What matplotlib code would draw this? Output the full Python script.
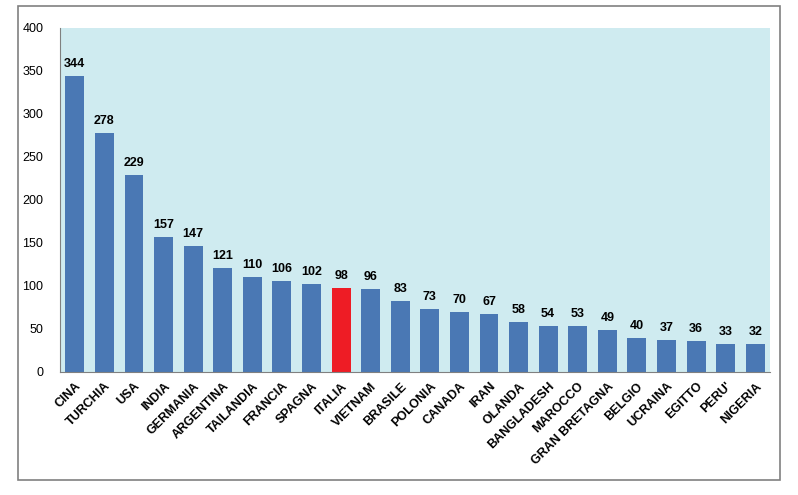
import matplotlib
matplotlib.use('Agg')
import matplotlib.pyplot as plt
from matplotlib.patches import Rectangle

plt.rcParams['font.family'] = ['Liberation Sans', 'DejaVu Sans']

paesi = ['CINA', 'TURCHIA', 'USA', 'INDIA', 'GERMANIA', 'ARGENTINA', 'TAILANDIA',
         'FRANCIA', 'SPAGNA', 'ITALIA', 'VIETNAM', 'BRASILE', 'POLONIA', 'CANADA',
         'IRAN', 'OLANDA', 'BANGLADESH', 'MAROCCO', 'GRAN BRETAGNA', 'BELGIO',
         'UCRAINA', 'EGITTO', "PERU'", 'NIGERIA']
valori = [344, 278, 229, 157, 147, 121, 110, 106, 102, 98, 96, 83, 73, 70,
          67, 58, 54, 53, 49, 40, 37, 36, 33, 32]
y_ticks = [0, 50, 100, 150, 200, 250, 300, 350, 400]

blu = '#4A78B4'
rosso = '#EE1C25'
colori = [rosso if p == 'ITALIA' else blu for p in paesi]

fig = plt.figure(figsize=(7.98, 4.95), dpi=100)
fig.patches.append(Rectangle((0.0226, 0.0303), 0.9545, 0.958, transform=fig.transFigure,
                             fill=False, edgecolor='#808080', linewidth=1.2))
ax = fig.add_axes([0.0752, 0.2485, 0.8898, 0.695])
ax.set_facecolor('#CFEBF0')

x = range(len(paesi))
bars = ax.bar(x, valori, width=0.64, color=colori)
for b, v in zip(bars, valori):
    ax.text(b.get_x() + b.get_width() / 2, v + 7, str(v), ha='center', va='bottom',
            fontsize=9, fontweight='bold')

ax.set_xlim(-0.5, len(paesi) - 0.5)
ax.set_ylim(0, 400)
ax.set_yticks(y_ticks)
ax.set_xticks(list(x))
ax.set_xticklabels(paesi, rotation=45, ha='right', rotation_mode='anchor',
                   fontsize=9, fontweight='bold')
ax.tick_params(axis='both', length=0, labelsize=9)
ax.tick_params(axis='y', pad=12)
ax.tick_params(axis='x', pad=6)
for s in ['top', 'right']:
    ax.spines[s].set_visible(False)
ax.spines['left'].set_color('#808080')
ax.spines['bottom'].set_color('#808080')

fig.savefig('out.png', dpi=100)
